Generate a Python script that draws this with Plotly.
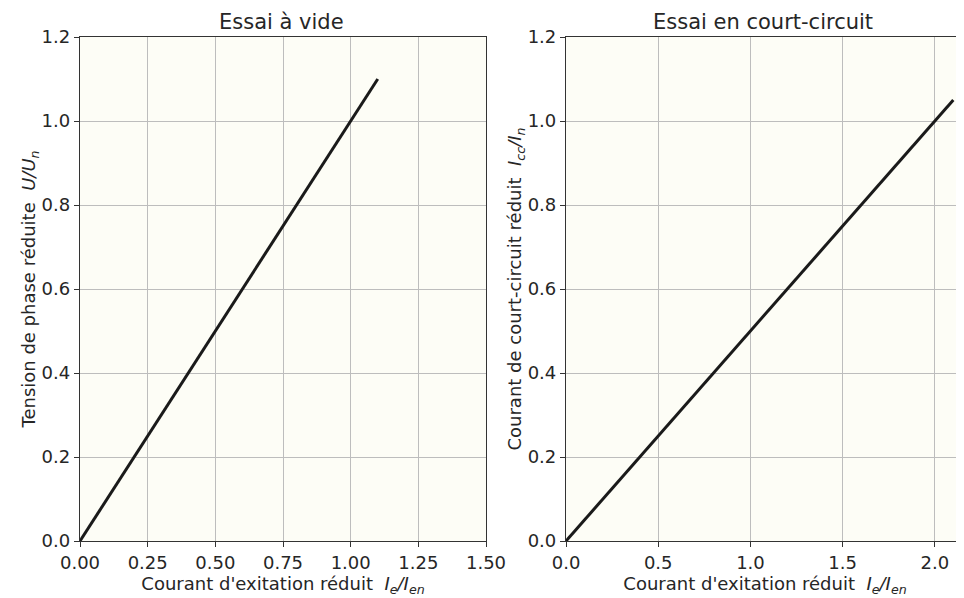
import plotly.graph_objects as go
from plotly.subplots import make_subplots

# Data
ie_vide = [0.0, 1.1]
u_vide = [0.0, 1.1]
ie_cc = [0.0, 2.1]
i_cc = [0.0, 1.05]

titles = ["Essai à vide", "Essai en court-circuit"]
x_title = "Courant d'exitation réduit  <i>I<sub>e</sub>/I<sub>en</sub></i>"
y_title_left = "Tension de phase réduite  <i>U/U<sub>n</sub></i>"
y_title_right = "Courant de court-circuit réduit  <i>I<sub>cc</sub>/I<sub>n</sub></i>"

left_xticks = [0, 0.25, 0.5, 0.75, 1.0, 1.25, 1.5]
left_xlabels = ["0.00", "0.25", "0.50", "0.75", "1.00", "1.25", "1.50"]
right_xticks = [0, 0.5, 1.0, 1.5, 2.0]
right_xlabels = ["0.0", "0.5", "1.0", "1.5", "2.0"]
yticks = [0, 0.2, 0.4, 0.6, 0.8, 1.0, 1.2]
ylabels = ["0.0", "0.2", "0.4", "0.6", "0.8", "1.0", "1.2"]

FONT = "DejaVu Sans"
TXT = "#262626"
BG = "#fdfdf6"

fig = make_subplots(rows=1, cols=2, subplot_titles=titles, horizontal_spacing=0.09)

fig.add_trace(go.Scatter(x=ie_vide, y=u_vide, mode="lines",
                         line=dict(color="#1a1a1a", width=3), showlegend=False), 1, 1)
fig.add_trace(go.Scatter(x=ie_cc, y=i_cc, mode="lines",
                         line=dict(color="#1a1a1a", width=3), showlegend=False), 1, 2)

axis_common = dict(showgrid=True, gridcolor="#bdbdbd", gridwidth=1.2,
                   showline=True, linecolor="#333333", linewidth=1.3,
                   ticks="outside", ticklen=5, tickcolor="#333333",
                   tickfont=dict(family=FONT, size=18, color=TXT),
                   zeroline=False, automargin=False)

fig.update_xaxes(**axis_common)
fig.update_yaxes(**axis_common)

tfont = dict(family=FONT, size=18, color=TXT)
fig.update_xaxes(row=1, col=1, range=[0, 1.5], tickvals=left_xticks, ticktext=left_xlabels,
                 domain=[0, 0.4593], mirror=True,
                 title=dict(text=x_title, font=tfont, standoff=2))
fig.update_xaxes(row=1, col=2, range=[0, 2.158], tickvals=right_xticks, ticktext=right_xlabels,
                 domain=[0.5498, 1.0], mirror=True,
                 title=dict(text=x_title, font=tfont, standoff=2))
fig.update_yaxes(row=1, col=1, range=[0, 1.2], tickvals=yticks, ticktext=ylabels, mirror=True,
                 title=dict(text=y_title_left, font=tfont, standoff=1))
fig.update_yaxes(row=1, col=2, range=[0, 1.2], tickvals=yticks, ticktext=ylabels, mirror=False,
                 title=dict(text=y_title_right, font=tfont, standoff=1))

for ann in fig.layout.annotations:
    ann.font = dict(family=FONT, size=21, color=TXT)
    ann.yshift = 1

# page body has an 8px margin, so the figure is placed at (8, 8)
fig.update_layout(
    width=956, height=590,
    margin=dict(l=72, r=0, t=29, b=57),
    paper_bgcolor="white",
    plot_bgcolor=BG,
    font=dict(family=FONT, color=TXT),
)

fig.write_html("out.html")
